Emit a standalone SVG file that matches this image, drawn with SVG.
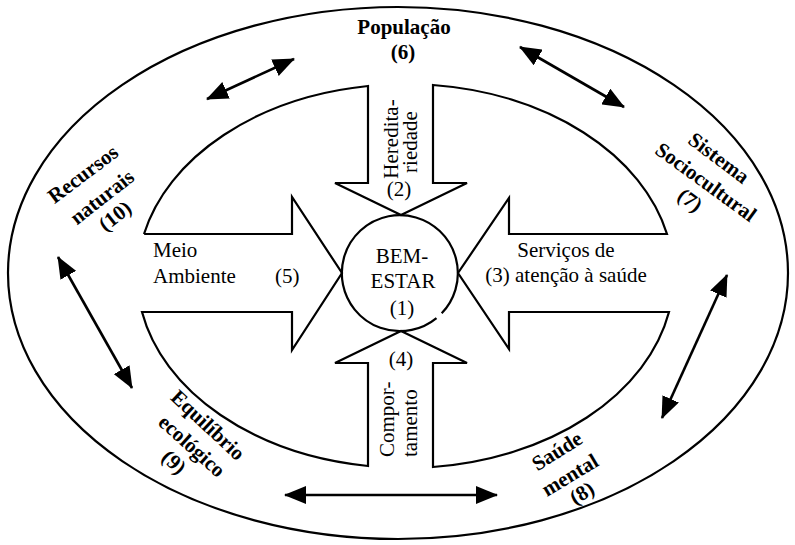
<svg xmlns="http://www.w3.org/2000/svg" width="795" height="545" viewBox="0 0 795 545">
  <style>
    .line { fill: none; stroke: #000; stroke-width: 2.2; stroke-linejoin: miter; }
    .link { fill: none; stroke: #000; stroke-width: 2.6; marker-start: url(#head); marker-end: url(#head); }
    text { font-family: "Liberation Serif", "Times New Roman", serif; font-size: 21px; fill: #000; }
    .ring { font-weight: bold; text-anchor: middle; dominant-baseline: central; }
    .mid { text-anchor: middle; }
  </style>
  <defs>
    <marker id="head" viewBox="0 0 22 18" refX="21" refY="9" markerWidth="22" markerHeight="18" markerUnits="userSpaceOnUse" orient="auto-start-reverse">
      <path d="M0,0 L22,9 L0,18 z" fill="#000"/>
    </marker>
  </defs>

  <rect width="795" height="545" fill="#fff"/>

  <!-- outer ring -->
  <g id="outer-ring">
    <ellipse class="line" cx="398" cy="273" rx="390" ry="266"/>
  </g>

  <!-- inner ellipse with the four inward arrows cut into it -->
  <g id="inner-field">
    <path class="line" d="M144,234 H292 V197 L342,273 L292,350 V312 H142
      A268,192 0 0 0 368,466 V363 H335 L401,331 L467,363 H433 V467
      A268,192 0 0 0 669,312 H509 V349 L458,273 L509,198 V234 H667
      A268,192 0 0 0 433,85 V183 H467 L401,215 L335,183 H368 V86
      A268,192 0 0 0 144,234"/>
  </g>

  <!-- centre: well-being (circle with a small break at lower right) -->
  <g id="bem-estar">
    <path class="line" d="M436.5,318.1 A58,58 0 1 1 441.7,313.3"/>
    <text class="mid" x="402" y="263">BEM-</text>
    <text class="mid" x="403" y="288">ESTAR</text>
    <text class="mid" x="402" y="315">(1)</text>
  </g>

  <!-- factor arrows -->
  <g id="hereditariedade">
    <text class="mid" transform="translate(398,139) rotate(-90)">Heredita-</text>
    <text class="mid" transform="translate(417,142) rotate(-90)">riedade</text>
    <text class="mid" x="399" y="196">(2)</text>
  </g>

  <g id="servicos">
    <text class="mid" x="566" y="257">Serviços de</text>
    <text class="mid" x="566" y="282">(3) atenção à saúde</text>
  </g>

  <g id="comportamento">
    <text class="mid" x="401" y="366">(4)</text>
    <text transform="translate(394,457) rotate(-90)">Compor-</text>
    <text transform="translate(417,457) rotate(-90)">tamento</text>
  </g>

  <g id="meio-ambiente">
    <text x="153" y="257">Meio</text>
    <text x="153" y="283">Ambiente</text>
    <text x="275" y="283">(5)</text>
  </g>

  <!-- outer ring labels -->
  <g id="populacao">
    <text class="mid" x="404" y="34" font-weight="bold">População</text>
    <text class="mid" x="403" y="59" font-weight="bold">(6)</text>
  </g>

  <g id="sociocultural">
    <text class="ring" x="719" y="158" transform="rotate(37 719 158)">Sistema</text>
    <text class="ring" x="706" y="182" transform="rotate(36 706 182)">Sociocultural</text>
    <text class="ring" x="690" y="200" transform="rotate(36 690 200)">(7)</text>
  </g>

  <g id="saude-mental">
    <text class="ring" x="557" y="451" transform="rotate(-32 557 451)">Saúde</text>
    <text class="ring" x="570" y="475" transform="rotate(-31 570 475)">mental</text>
    <text class="ring" x="582" y="493" transform="rotate(-31 582 493)">(8)</text>
  </g>

  <g id="equilibrio">
    <text class="ring" x="208" y="425" transform="rotate(43 208 425)">Equilíbrio</text>
    <text class="ring" x="192" y="446" transform="rotate(42 192 446)">ecológico</text>
    <text class="ring" x="174" y="462" transform="rotate(42 174 462)">(9)</text>
  </g>

  <g id="recursos">
    <text class="ring" x="83" y="174" transform="rotate(-37 83 174)">Recursos</text>
    <text class="ring" x="102" y="197" transform="rotate(-38 102 197)">naturais</text>
    <text class="ring" x="115" y="216" transform="rotate(-38 115 216)">(10)</text>
  </g>

  <!-- two-way links around the ring -->
  <g id="links">
    <line class="link" x1="207" y1="99" x2="294" y2="59"/>
    <line class="link" x1="520" y1="47" x2="624" y2="107"/>
    <line class="link" x1="727" y1="275" x2="662" y2="418"/>
    <line class="link" x1="497" y1="495" x2="285" y2="495"/>
    <line class="link" x1="58" y1="257" x2="132" y2="388"/>
  </g>
</svg>
